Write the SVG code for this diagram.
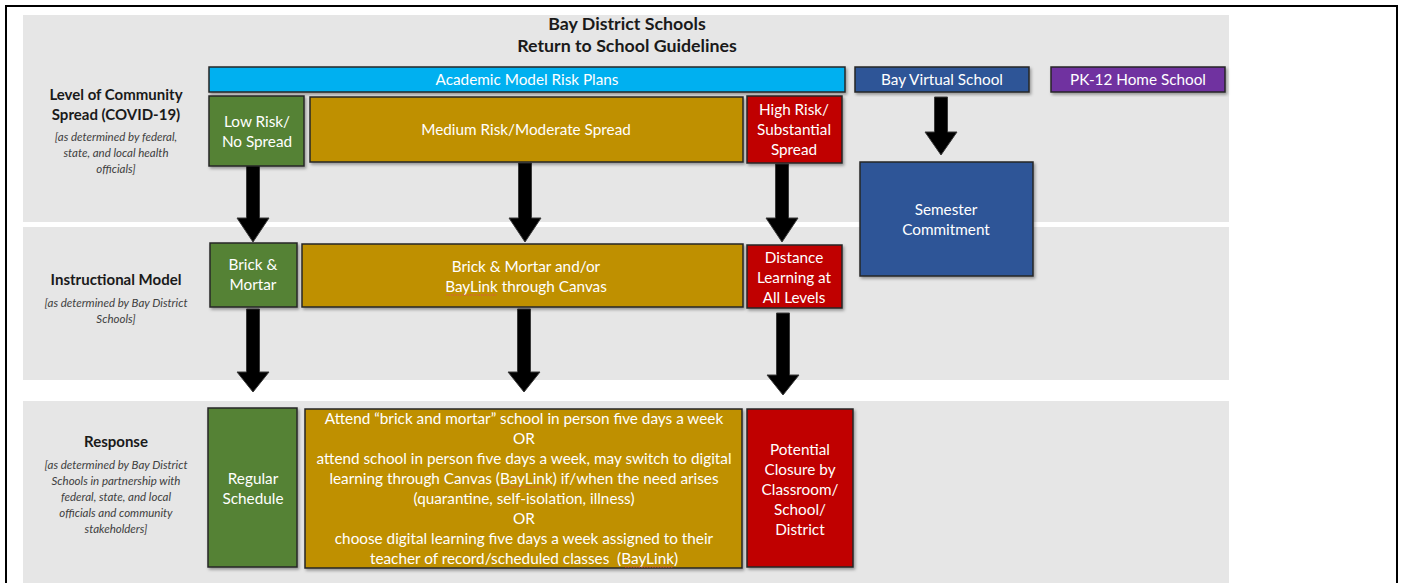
<svg xmlns="http://www.w3.org/2000/svg" width="1404" height="583" viewBox="0 0 1404 583">
<defs>
<filter id="sh" x="-10%" y="-10%" width="130%" height="130%">
<feDropShadow dx="1.5" dy="2" stdDeviation="1.5" flood-color="#000" flood-opacity="0.35"/>
</filter>
<style>
.band{fill:#e6e6e6}
.box{stroke:#262626;stroke-width:1.5;filter:url(#sh)}
.t{font-family:Lato,"Liberation Sans",sans-serif;fill:#fff;text-anchor:middle;font-size:15.3px}
.h{font-family:Lato,"Liberation Sans",sans-serif;fill:#1a1a1a;text-anchor:middle;font-weight:bold;font-size:15px}
.s{font-family:Lato,"Liberation Sans",sans-serif;fill:#404040;text-anchor:middle;font-style:italic;font-size:11.5px}
.title{font-family:Lato,"Liberation Sans",sans-serif;fill:#1a1a1a;text-anchor:middle;font-weight:bold;font-size:17.8px}
.arr{fill:#000;stroke:#3a3a3a;stroke-width:1}
.sq{fill:none;stroke:#e05050;stroke-width:1;stroke-dasharray:1.5 1.2}
.green{fill:#548235}.gold{fill:#bf9000}.red{fill:#c00000}.blue{fill:#2f5597}.cyan{fill:#00b0f0}.purple{fill:#7030a0}
</style>
</defs>
<rect x="0" y="0" width="1404" height="583" fill="#fff"/>
<rect x="6" y="6" width="1391" height="600" fill="none" stroke="#000" stroke-width="2"/>
<rect class="band" x="23" y="15" width="1206" height="207"/>
<rect class="band" x="23" y="227" width="1206" height="153"/>
<rect class="band" x="23" y="401" width="1206" height="190"/>

<g id="title">
<text class="title" x="627" y="30">Bay District Schools</text>
<text class="title" x="627" y="52">Return to School Guidelines</text>
</g>

<g id="label-spread">
<text class="h" x="116" y="100">Level of Community</text>
<text class="h" x="116" y="120">Spread (COVID-19)</text>
<text class="s" x="116" y="141">[as determined by federal,</text>
<text class="s" x="116" y="157">state, and local health</text>
<text class="s" x="116" y="173">officials]</text>
</g>
<g id="label-instructional">
<text class="h" x="116" y="285">Instructional Model</text>
<text class="s" x="116" y="307">[as determined by Bay District</text>
<text class="s" x="116" y="323">Schools]</text>
</g>
<g id="label-response">
<text class="h" x="116" y="447">Response</text>
<text class="s" x="116" y="469">[as determined by Bay District</text>
<text class="s" x="116" y="485">Schools in partnership with</text>
<text class="s" x="116" y="501">federal, state, and local</text>
<text class="s" x="116" y="517">officials and community</text>
<text class="s" x="116" y="533">stakeholders]</text>
</g>

<g id="connectors">
<polygon class="arr" points="246.5,164 259.5,164 259.5,218 269,218 253,242 237,218 246.5,218"/>
<polygon class="arr" points="518.5,163 531.5,163 531.5,218 541,218 525,242 509,218 518.5,218"/>
<polygon class="arr" points="775.5,164 788.5,164 788.5,218 798,218 782,242 766,218 775.5,218"/>
<polygon class="arr" points="934.5,97 947.5,97 947.5,132 957,132 941,155 925,132 934.5,132"/>
<polygon class="arr" points="246.5,309 259.5,309 259.5,372 269,372 253,392 237,372 246.5,372"/>
<polygon class="arr" points="517.5,309 530.5,309 530.5,372 540,372 524,392 508,372 517.5,372"/>
<polygon class="arr" points="776.5,313 789.5,313 789.5,375 799,375 783,395 767,375 776.5,375"/>
</g>

<g id="academic-plans">
<rect class="box cyan" x="209" y="67" width="636" height="25"/>
<text class="t" x="527" y="85">Academic Model Risk Plans</text>
</g>
<g id="bay-virtual">
<rect class="box blue" x="855" y="67" width="174" height="25"/>
<text class="t" x="942" y="85">Bay Virtual School</text>
</g>
<g id="home-school">
<rect class="box purple" x="1051" y="67" width="174" height="25"/>
<text class="t" x="1138" y="85">PK-12 Home School</text>
</g>

<g id="low-risk">
<rect class="box green" x="209" y="96" width="95" height="70"/>
<text class="t" x="257" y="127">Low Risk/</text>
<text class="t" x="257" y="147">No Spread</text>
</g>
<g id="medium-risk">
<rect class="box gold" x="310" y="97" width="433" height="65"/>
<text class="t" x="526" y="135">Medium Risk/Moderate Spread</text>
</g>
<g id="high-risk">
<rect class="box red" x="747" y="96" width="95" height="67"/>
<text class="t" x="794" y="115">High Risk/</text>
<text class="t" x="794" y="135">Substantial</text>
<text class="t" x="794" y="155">Spread</text>
</g>
<g id="semester">
<rect class="box blue" x="860" y="162" width="173" height="114"/>
<text class="t" x="946" y="215">Semester</text>
<text class="t" x="946" y="235">Commitment</text>
</g>

<g id="brick-mortar">
<rect class="box green" x="210" y="243" width="87" height="64"/>
<text class="t" x="253" y="270">Brick &amp;</text>
<text class="t" x="253" y="290">Mortar</text>
</g>
<g id="brick-baylink">
<rect class="box gold" x="302" y="244" width="441" height="63"/>
<text class="t" x="526" y="272">Brick &amp; Mortar and/or</text>
<text class="t" x="526" y="292">BayLink through Canvas</text>
<line class="sq" x1="446" y1="295" x2="497" y2="295"/>
</g>
<g id="distance">
<rect class="box red" x="747" y="245" width="95" height="63"/>
<text class="t" x="794" y="263">Distance</text>
<text class="t" x="794" y="283">Learning at</text>
<text class="t" x="794" y="303">All Levels</text>
</g>

<g id="regular">
<rect class="box green" x="208" y="408" width="89" height="159"/>
<text class="t" x="253" y="484">Regular</text>
<text class="t" x="253" y="504">Schedule</text>
</g>
<g id="response-options">
<rect class="box gold" x="305" y="409" width="437" height="159"/>
<text class="t" x="524" y="424">Attend “brick and mortar” school in person five days a week</text>
<text class="t" x="524" y="444">OR</text>
<text class="t" x="524" y="464">attend school in person five days a week, may switch to digital</text>
<text class="t" x="524" y="484">learning through Canvas (BayLink) if/when the need arises</text>
<text class="t" x="524" y="504">(quarantine, self-isolation, illness)</text>
<text class="t" x="524" y="524">OR</text>
<text class="t" x="524" y="544">choose digital learning five days a week assigned to their</text>
<text class="t" x="524" y="564" xml:space="preserve">teacher of record/scheduled classes  (BayLink)</text>
<line class="sq" x1="501" y1="487" x2="549" y2="487"/>
<line class="sq" x1="625" y1="567" x2="673" y2="567"/>
</g>
<g id="closure">
<rect class="box red" x="747" y="409" width="106" height="158"/>
<text class="t" x="800" y="455">Potential</text>
<text class="t" x="800" y="475">Closure by</text>
<text class="t" x="800" y="495">Classroom/</text>
<text class="t" x="800" y="515">School/</text>
<text class="t" x="800" y="535">District</text>
</g>
</svg>
